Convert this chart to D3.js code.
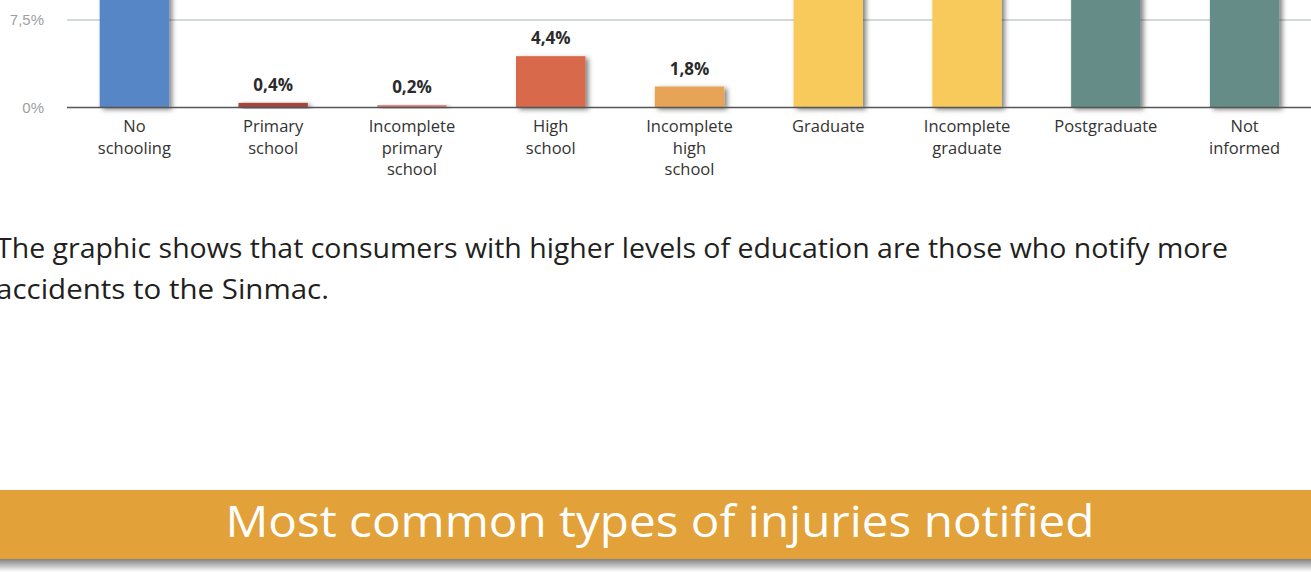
<!DOCTYPE html>
<html>
<head>
<meta charset="utf-8">
<script src="https://cdn.jsdelivr.net/npm/d3@7"></script>
<style>
  body { margin: 0; background: #fff; overflow: hidden; }
  text { font-family: "Open Sans", "Noto Sans", sans-serif; }
</style>
</head>
<body>
<div id="grafico"></div>
<script>
const width = 1311;
const height = 572;

// datos
const categorias = ["No schooling", "Primary school", "Incomplete primary school", "High school",
  "Incomplete high school", "Graduate", "Incomplete graduate", "Postgraduate", "Not informed"];
const etiquetas = [["No", "schooling"], ["Primary", "school"], ["Incomplete", "primary", "school"],
  ["High", "school"], ["Incomplete", "high", "school"], ["Graduate"], ["Incomplete", "graduate"],
  ["Postgraduate"], ["Not", "informed"]];
// las barras altas se salen del recorte: valores estimados
const valores = [12.3, 0.4, 0.2, 4.4, 1.8, 33.5, 13.6, 18.9, 15.0];
const mostrarValor = [false, true, true, true, true, false, false, false, false];
const colores = ["#5686c6", "#a8453e", "#de7d74", "#d9694b", "#e8a456", "#f8ca5c", "#f8ca5c", "#668c88", "#668c88"];
const ticks = [0, 7.5];
const tickTexto = ["0%", "7,5%"];

const parrafo = ["The graphic shows that consumers with higher levels of education are those who notify more",
  "accidents to the Sinmac."];
const titulo = "Most common types of injuries notified";

const svg = d3.select("#grafico").append("svg")
  .attr("width", width).attr("height", height);

const defs = svg.append("defs");
defs.append("filter").attr("id", "sombra")
  .attr("x", "-20%").attr("y", "-20%").attr("width", "150%").attr("height", "150%")
  .append("feDropShadow")
  .attr("dx", 3).attr("dy", 2).attr("stdDeviation", 2.5)
  .attr("flood-color", "#000").attr("flood-opacity", 0.5);

const gradSombra = defs.append("linearGradient").attr("id", "sombraBanda")
  .attr("x1", 0).attr("y1", 0).attr("x2", 0).attr("y2", 1);
gradSombra.append("stop").attr("offset", "0%").attr("stop-color", "#777");
gradSombra.append("stop").attr("offset", "100%").attr("stop-color", "#fff");

// escalas
const x = d3.scaleBand().domain(categorias).range([65, 1314])
  .paddingInner(0.5).paddingOuter(0.25);
const y = d3.scaleLinear().domain([0, 7.5]).range([107.5, 20]);

// rejilla
svg.append("g").selectAll("line").data(ticks.filter(t => t > 0)).join("line")
  .attr("x1", 67).attr("x2", width)
  .attr("y1", d => y(d)).attr("y2", d => y(d))
  .attr("stroke", "#c5cbcb").attr("stroke-width", 1.5);

// etiquetas del eje Y
svg.append("g").selectAll("text").data(ticks).join("text")
  .attr("x", 44)
  .attr("y", d => y(d))
  .attr("dy", "0.36em")
  .attr("text-anchor", "end")
  .attr("fill", "#a0a0a0")
  .style("font-family", "'Liberation Sans', Arial, sans-serif")
  .style("font-size", "15px")
  .text((d, i) => tickTexto[i]);

// barras
svg.append("g").selectAll("rect").data(categorias).join("rect")
  .attr("x", d => x(d))
  .attr("width", x.bandwidth())
  .attr("y", (d, i) => y(valores[i]))
  .attr("height", (d, i) => y(0) - y(valores[i]))
  .attr("fill", (d, i) => colores[i])
  .attr("filter", "url(#sombra)");

// eje x
svg.append("line")
  .attr("x1", 67).attr("x2", width)
  .attr("y1", y(0)).attr("y2", y(0))
  .attr("stroke", "#555").attr("stroke-width", 1.5);

// valores
svg.append("g").selectAll("text")
  .data(categorias.filter((d, i) => mostrarValor[i]))
  .join("text")
  .attr("x", d => x(d) + x.bandwidth() / 2)
  .attr("y", d => y(valores[categorias.indexOf(d)]) - 12)
  .attr("text-anchor", "middle")
  .style("font-size", "17px").style("font-weight", "bold")
  .attr("fill", "#2b2b2b")
  .text(d => valores[categorias.indexOf(d)].toFixed(1).replace(".", ",") + "%");

// etiquetas de categorias
const etiq = svg.append("g").selectAll("text").data(categorias).join("text")
  .attr("x", d => x(d) + x.bandwidth() / 2)
  .attr("y", 132)
  .attr("text-anchor", "middle")
  .attr("fill", "#333")
  .style("font-size", "16.5px");
etiq.selectAll("tspan").data((d, i) => etiquetas[i]).join("tspan")
  .attr("x", function() { return d3.select(this.parentNode).attr("x"); })
  .attr("dy", (d, i) => i === 0 ? 0 : 21.5)
  .text(d => d);

// parrafo
svg.append("g").selectAll("text").data(parrafo).join("text")
  .attr("x", -4)
  .attr("y", (d, i) => 258 + i * 41)
  .attr("fill", "#231f20")
  .style("font-size", "27px")
  .attr("textLength", (d, i) => i === 0 ? 1232 : 333)
  .attr("lengthAdjust", "spacingAndGlyphs")
  .text(d => d);

// banda de titulo
svg.append("rect").attr("x", 0).attr("y", 558).attr("width", width).attr("height", 14)
  .attr("fill", "url(#sombraBanda)");
svg.append("rect").attr("x", 0).attr("y", 490).attr("width", width).attr("height", 69)
  .attr("fill", "#e2a139");
svg.append("text")
  .attr("x", 660).attr("y", 537)
  .attr("text-anchor", "middle")
  .attr("fill", "#fff")
  .style("font-size", "44px")
  .attr("textLength", 869)
  .attr("lengthAdjust", "spacingAndGlyphs")
  .text(titulo);
</script>
</body>
</html>
